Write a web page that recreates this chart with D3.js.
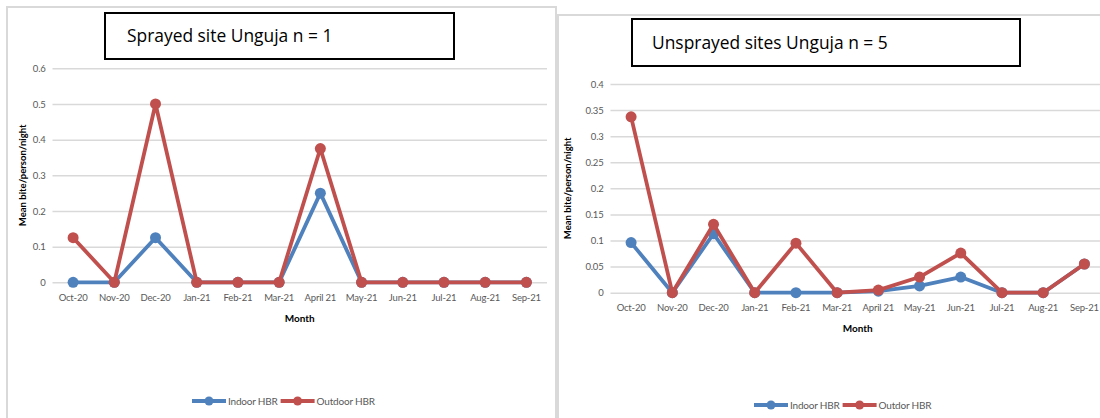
<!DOCTYPE html>
<html>
<head>
<meta charset="utf-8">
<script src="https://cdn.jsdelivr.net/npm/d3@7"></script>
<style>
  html, body { margin: 0; padding: 0; background: #ffffff; }
  svg { display: block; font-family: Lato, "Open Sans", sans-serif; }
</style>
</head>
<body>
<svg id="chart" width="1100" height="418"></svg>
<script>
// Months surveyed
const months = ["Oct-20", "Nov-20", "Dec-20", "Jan-21", "Feb-21", "Mar-21",
                "April  21", "May-21", "Jun-21", "Jul-21", "Aug-21", "Sep-21"];

// Sprayed site (Unguja, n = 1)
const sprayedIndoor  = [0, 0, 0.125, 0, 0, 0, 0.25, 0, 0, 0, 0, 0];
const sprayedOutdoor = [0.125, 0, 0.5, 0, 0, 0, 0.375, 0, 0, 0, 0, 0];
const sprayedTicks   = [0, 0.1, 0.2, 0.3, 0.4, 0.5, 0.6];

// Unsprayed sites (Unguja, n = 5)
const unsprayedIndoor  = [0.096, 0, 0.113, 0, 0, 0, 0.003, 0.013, 0.03, 0, 0, 0.055];
const unsprayedOutdoor = [0.337, 0, 0.131, 0, 0.095, 0, 0.005, 0.03, 0.076, 0, 0, 0.055];
const unsprayedTicks   = [0, 0.05, 0.1, 0.15, 0.2, 0.25, 0.3, 0.35, 0.4];

const BLUE = "#4f81bd";
const RED = "#c0504d";
const svg = d3.select("#chart");

function drawPanel(cfg) {
  const g = svg.append("g");

  // outer chart frame
  g.append("rect")
    .attr("x", cfg.frame[0]).attr("y", cfg.frame[1])
    .attr("width", cfg.frame[2]).attr("height", cfg.frame[3])
    .attr("fill", "#fff").attr("stroke", "#d9d9d9").attr("stroke-width", 2);

  // title box
  g.append("rect")
    .attr("x", cfg.titleBox[0]).attr("y", cfg.titleBox[1])
    .attr("width", cfg.titleBox[2]).attr("height", cfg.titleBox[3])
    .attr("fill", "#fff").attr("stroke", "#000").attr("stroke-width", 2);
  g.append("text")
    .attr("x", cfg.titleBox[0] + cfg.titlePad)
    .attr("y", cfg.titleBox[1] + cfg.titleBox[3] / 2 + 6)
    .attr("font-family", "'Open Sans', sans-serif")
    .attr("font-size", 17.4).attr("fill", "#000")
    .text(cfg.title);

  const x = d3.scaleBand().domain(months).range(cfg.xRange);
  const y = d3.scaleLinear().domain([0, d3.max(cfg.ticks)]).range(cfg.yRange);
  const cx = m => x(m) + x.bandwidth() / 2;

  // horizontal gridlines + y tick labels
  const yAxis = d3.axisLeft(y).tickValues(cfg.ticks)
    .tickSize(-(cfg.xRange[1] - cfg.xRange[0])).tickPadding(7)
    .tickFormat(d => d3.format("")(+d.toFixed(2)));
  const ya = g.append("g").attr("transform", `translate(${cfg.xRange[0]},0)`).call(yAxis);
  ya.select(".domain").remove();
  ya.selectAll(".tick line").attr("stroke", "#d9d9d9").attr("stroke-width", 1.5);
  ya.selectAll(".tick text").attr("fill", "#595959").attr("font-size", 9.5)
    .attr("font-family", "Lato, sans-serif").attr("letter-spacing", -0.2);

  // x tick labels
  const xAxis = d3.axisBottom(x).tickSize(0).tickPadding(cfg.xPad);
  const xa = g.append("g").attr("transform", `translate(0,${cfg.yRange[0]})`).call(xAxis);
  xa.select(".domain").remove();
  xa.selectAll(".tick text").attr("fill", "#595959").attr("font-size", 9.5)
    .attr("font-family", "Lato, sans-serif").attr("letter-spacing", -0.2);

  // axis titles
  g.append("text")
    .attr("x", (cfg.xRange[0] + cfg.xRange[1]) / 2).attr("y", cfg.yRange[0] + cfg.monthDy)
    .attr("text-anchor", "middle").attr("font-size", 10).attr("font-weight", "bold")
    .attr("fill", "#000").text("Month");
  g.append("text")
    .attr("transform", `translate(${cfg.yLabelX},${(cfg.yRange[0] + cfg.yRange[1]) / 2}) rotate(-90)`)
    .attr("text-anchor", "middle").attr("font-size", 9.5).attr("font-weight", "bold")
    .attr("fill", "#000").text("Mean bite/person/night");

  // series
  const line = d3.line().x((d, i) => cx(months[i])).y(d => y(d));
  [[cfg.indoor, BLUE], [cfg.outdoor, RED]].forEach(([vals, col]) => {
    g.append("path").datum(vals).attr("d", line)
      .attr("fill", "none").attr("stroke", col).attr("stroke-width", 3.8)
      .attr("stroke-linejoin", "round");
    g.selectAll(null).data(vals).enter().append("circle")
      .attr("cx", (d, i) => cx(months[i])).attr("cy", d => y(d))
      .attr("r", 5.5).attr("fill", col);
  });

  // legend
  let lx = cfg.legendX;
  const ly = cfg.legendY;
  cfg.legend.forEach(([label, col]) => {
    g.append("line").attr("x1", lx).attr("x2", lx + 34).attr("y1", ly).attr("y2", ly)
      .attr("stroke", col).attr("stroke-width", 3.8);
    g.append("circle").attr("cx", lx + 17).attr("cy", ly).attr("r", 4.5).attr("fill", col);
    const t = g.append("text").attr("x", lx + 36).attr("y", ly + 3.5)
      .attr("font-size", 10).attr("fill", "#595959").attr("letter-spacing", -0.2).text(label);
    lx += 36 + t.node().getComputedTextLength() + 3;
  });
}

drawPanel({
  frame: [7, 7, 549, 420],
  titleBox: [105, 13, 349, 46], titlePad: 22,
  title: "Sprayed site Unguja n = 1",
  xRange: [52.5, 547], yRange: [282.3, 68.3],
  ticks: sprayedTicks, indoor: sprayedIndoor, outdoor: sprayedOutdoor,
  xPad: 12, monthDy: 40, yLabelX: 26,
  legendX: 192, legendY: 401,
  legend: [["Indoor HBR", BLUE], ["Outdoor HBR", RED]]
});

drawPanel({
  frame: [558, 15, 560, 420],
  titleBox: [632, 19, 388, 47], titlePad: 20,
  title: "Unsprayed sites Unguja n = 5",
  xRange: [610.5, 1105], yRange: [292.7, 84],
  ticks: unsprayedTicks, indoor: unsprayedIndoor, outdoor: unsprayedOutdoor,
  xPad: 12, monthDy: 39, yLabelX: 571,
  legendX: 754, legendY: 405,
  legend: [["Indoor HBR", BLUE], ["Outdor HBR", RED]]
});
</script>
</body>
</html>
